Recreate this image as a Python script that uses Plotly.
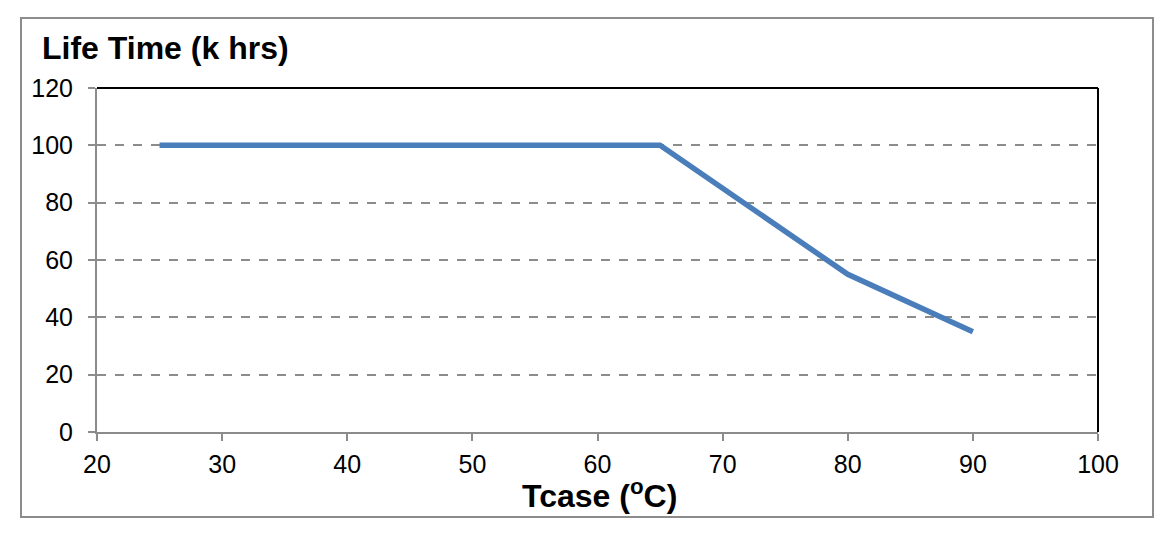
import plotly.graph_objects as go

# Tcase (deg C) vs life time (k hrs)
tcase = [25, 65, 80, 90]
life_k_hrs = [100, 100, 55, 35]

x_ticks = [20, 30, 40, 50, 60, 70, 80, 90, 100]
y_ticks = [0, 20, 40, 60, 80, 100, 120]

FONT = "Liberation Sans, Arial, sans-serif"
GRAY = "#8c8c8c"

fig = go.Figure()

fig.add_trace(go.Scatter(
    x=tcase, y=life_k_hrs, mode="lines",
    line=dict(color="#4a7ebb", width=5.5),
    showlegend=False, hoverinfo="skip",
))

fig.update_xaxes(
    range=[20, 100], tickvals=x_ticks,
    showgrid=False, zeroline=False,
    showline=True, linecolor=GRAY, linewidth=2,
    ticks="outside", ticklen=7, tickwidth=2, tickcolor=GRAY,
    ticklabelstandoff=2,
    tickfont=dict(family=FONT, size=25, color="black"),
)
fig.update_yaxes(
    range=[0, 120], tickvals=y_ticks,
    showgrid=True, gridcolor=GRAY, griddash="dash", gridwidth=1.5,
    zeroline=False,
    showline=True, linecolor=GRAY, linewidth=2,
    ticks="outside", ticklen=7, tickwidth=2, tickcolor=GRAY,
    ticklabelstandoff=10,
    tickfont=dict(family=FONT, size=25, color="black"),
)

# top and right plot edges are black
fig.add_shape(type="line", xref="paper", yref="paper", x0=0, x1=1, y0=1, y1=1,
              line=dict(color="black", width=2))
fig.add_shape(type="line", xref="paper", yref="paper", x0=1, x1=1, y0=0, y1=1,
              line=dict(color="black", width=2))

# outer frame around the whole chart
fig.add_shape(type="rect", xref="paper", yref="paper",
              x0=(21 - 97) / 1001, x1=(1153 - 97) / 1001,
              y0=(432 - 517) / 344, y1=(432 - 18) / 344,
              line=dict(color=GRAY, width=2))

fig.add_annotation(
    text="<b>Life Time (k hrs)</b>", xref="paper", yref="paper",
    x=(40 - 97) / 1001, y=(432 - 48) / 344, xanchor="left", yanchor="middle",
    showarrow=False, font=dict(family=FONT, size=32, color="black"),
)
fig.add_annotation(
    text="<b>Tcase (<sup>o</sup>C)</b>", xref="paper", yref="paper",
    x=(599 - 97) / 1001, y=(432 - 494) / 344, xanchor="center", yanchor="middle",
    showarrow=False, font=dict(family=FONT, size=32, color="black"),
)

# page body has an 8px margin, so shrink the figure to keep the plot in place
fig.update_layout(
    width=1163, height=530,
    margin=dict(l=89, r=73, t=80, b=106),
    plot_bgcolor="white", paper_bgcolor="white",
)

fig.write_html("out.html")
